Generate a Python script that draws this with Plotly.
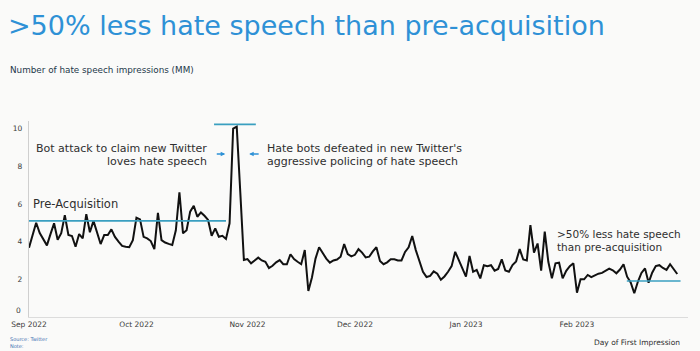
import pandas as pd
import plotly.graph_objects as go

# ---- data ----
start_date = "2022-09-01"
impressions_mm = [
    3.68, 4.3, 5.0, 4.45, 4.15, 3.8, 4.4, 4.97, 4.1, 4.45, 5.4, 4.35, 4.3, 3.73, 4.4, 4.17,
    5.46, 4.5, 5.1, 4.5, 3.87, 4.35, 4.35, 4.65, 4.25, 4.0, 3.77, 3.73, 3.7, 4.08, 5.27, 5.18,
    4.25, 4.17, 4.03, 3.6, 5.53, 4.08,
    3.95, 3.88, 3.82, 4.6, 6.62, 4.44, 4.6, 5.59, 5.9, 5.32, 5.55, 5.37, 5.15, 4.31, 4.7, 4.26,
    4.31, 4.14, 4.97, 10.0, 10.1, 6.6, 3.02, 3.07, 2.85, 3.0, 3.15, 3.0, 2.93, 2.6, 2.72, 2.9,
    3.02, 2.8, 2.8, 3.33, 3.07, 2.93, 2.8,
    3.55, 1.38, 2.1, 3.1, 3.7, 3.4, 3.1, 2.88, 3.0, 3.05, 3.2, 3.87, 3.34, 3.22, 3.3, 3.6,
    3.42, 3.16, 3.2, 3.48, 3.7, 2.97, 2.8, 2.9, 3.06, 3.06, 3.0, 3.0, 3.45, 3.7, 4.3, 3.55,
    3.0, 2.4, 2.12, 2.18, 2.42, 2.3, 1.98, 2.15, 2.4, 2.7, 3.46, 3.0, 2.5, 2.14, 3.24, 2.4,
    2.5, 2.05, 2.75, 2.7, 2.75, 2.46, 2.55, 3.06, 2.47, 2.4, 2.76, 2.95, 3.6, 3.05, 3.0, 4.88,
    3.41, 3.9, 2.46, 4.53, 2.93, 2.05, 2.85, 2.88, 2.05, 2.45, 2.7, 2.85, 1.29, 2.0, 2.0, 2.23,
    2.12, 2.23, 2.3, 2.34, 2.45, 2.57, 2.48, 2.32, 2.52, 2.8, 2.14, 1.83, 1.26, 1.87, 2.34, 2.58,
    1.82, 2.35, 2.7, 2.75, 2.6, 2.5, 2.8, 2.53, 2.28,
]
dates = pd.date_range(start_date, periods=len(impressions_mm), freq="D")

ref_levels = [5.1, 10.22, 1.91]
ref_starts = ["2022-09-01", "2022-10-22 16:00", "2023-02-14 22:00"]
ref_ends = ["2022-10-26", "2022-11-03 08:00", "2023-03-01 22:00"]

y_ticks = [2, 4, 6, 8, 10]
y_zero_label = "0"
x_ticks = ["2022-09-01", "2022-10-01", "2022-11-01", "2022-12-01", "2023-01-01", "2023-02-01"]
x_tick_labels = ["Sep 2022", "Oct 2022", "Nov 2022", "Dec 2022", "Jan 2023", "Feb 2023"]

FONT = "DejaVu Sans"
BLUE = "#2e91d6"
TEAL = "#3a9fc0"
TXT = "#2f2f2f"

fig = go.Figure()
fig.add_trace(go.Scatter(x=dates, y=impressions_mm, mode="lines",
                         line=dict(color="#111111", width=2), hoverinfo="skip"))

for lvl, s, e in zip(ref_levels, ref_starts, ref_ends):
    fig.add_shape(type="line", xref="x", yref="y", x0=s, x1=e, y0=lvl, y1=lvl,
                  line=dict(color=TEAL, width=1.6))

L, W, T, H = 27, 661.5, 121, 196


def px(xp):
    return (xp - L) / W


def py(yp):
    return (T + H - yp) / H


def txt(text, x, y, xanchor="left", size=11, color=TXT, yanchor="middle"):
    fig.add_annotation(text=text, xref="paper", yref="paper", x=px(x), y=py(y),
                       xanchor=xanchor, yanchor=yanchor, showarrow=False, align="left",
                       font=dict(family=FONT, size=size, color=color))


txt("Number of hate speech impressions (MM)", 6, 70, size=8.8, color="#23384a")
txt("Pre-Acquisition", 29, 204, size=11.5)
txt("Bot attack to claim new Twitter", 208, 148, xanchor="right")
txt("loves hate speech", 208, 161, xanchor="right")
txt("Hate bots defeated in new Twitter's", 264, 148)
txt("aggressive policing of hate speech", 264, 161)
txt("&gt;50% less hate speech", 555, 234, size=10.5)
txt("than pre-acquisition", 555, 247, size=10.5)
txt("Day of First Impression", 682, 342, xanchor="right", size=7.5)
txt("Source: Twitter<br>Note:", 6, 351, size=5, color="#3a6fb0", yanchor="bottom")
txt(y_zero_label, 21, 310, xanchor="right", size=7.5, color="#3a3a3a")

for head_x, ax in [(224, -10), (248, 11)]:
    fig.add_annotation(text="", xref="paper", yref="paper", x=px(head_x), y=py(154),
                       ax=ax, ay=0, showarrow=True, arrowhead=2, arrowsize=0.7,
                       arrowwidth=1.3, arrowcolor=BLUE)

fig.update_layout(
    width=700, height=351,
    margin=dict(l=L, r=700 - L - W, t=T, b=351 - T - H),
    paper_bgcolor="#fafaf9", plot_bgcolor="#fafaf9",
    showlegend=False,
    title=dict(text="&gt;50% less hate speech than pre-acquisition",
               x=8 / 700, xanchor="left", xref="container",
               y=1 - 26 / 351, yanchor="middle", yref="container",
               font=dict(family=FONT, size=27, color=BLUE)),
    font=dict(family=FONT, color="#444444"),
)
fig.update_xaxes(type="date", range=["2022-09-01", "2023-03-04"],
                 tickvals=x_ticks, ticktext=x_tick_labels,
                 tickfont=dict(size=7.5, color="#3a3a3a"),
                 showgrid=False, zeroline=False, showline=True,
                 linecolor="#dcdcdc", linewidth=1, ticks="")
fig.update_yaxes(range=[0, 10.4], tickvals=y_ticks,
                 tickfont=dict(size=7.5, color="#3a3a3a"),
                 ticklabelstandoff=4,
                 showgrid=False, zeroline=False, showline=True,
                 linecolor="#cfcfcf", linewidth=1.2, ticks="")

fig.write_html("out.html")
